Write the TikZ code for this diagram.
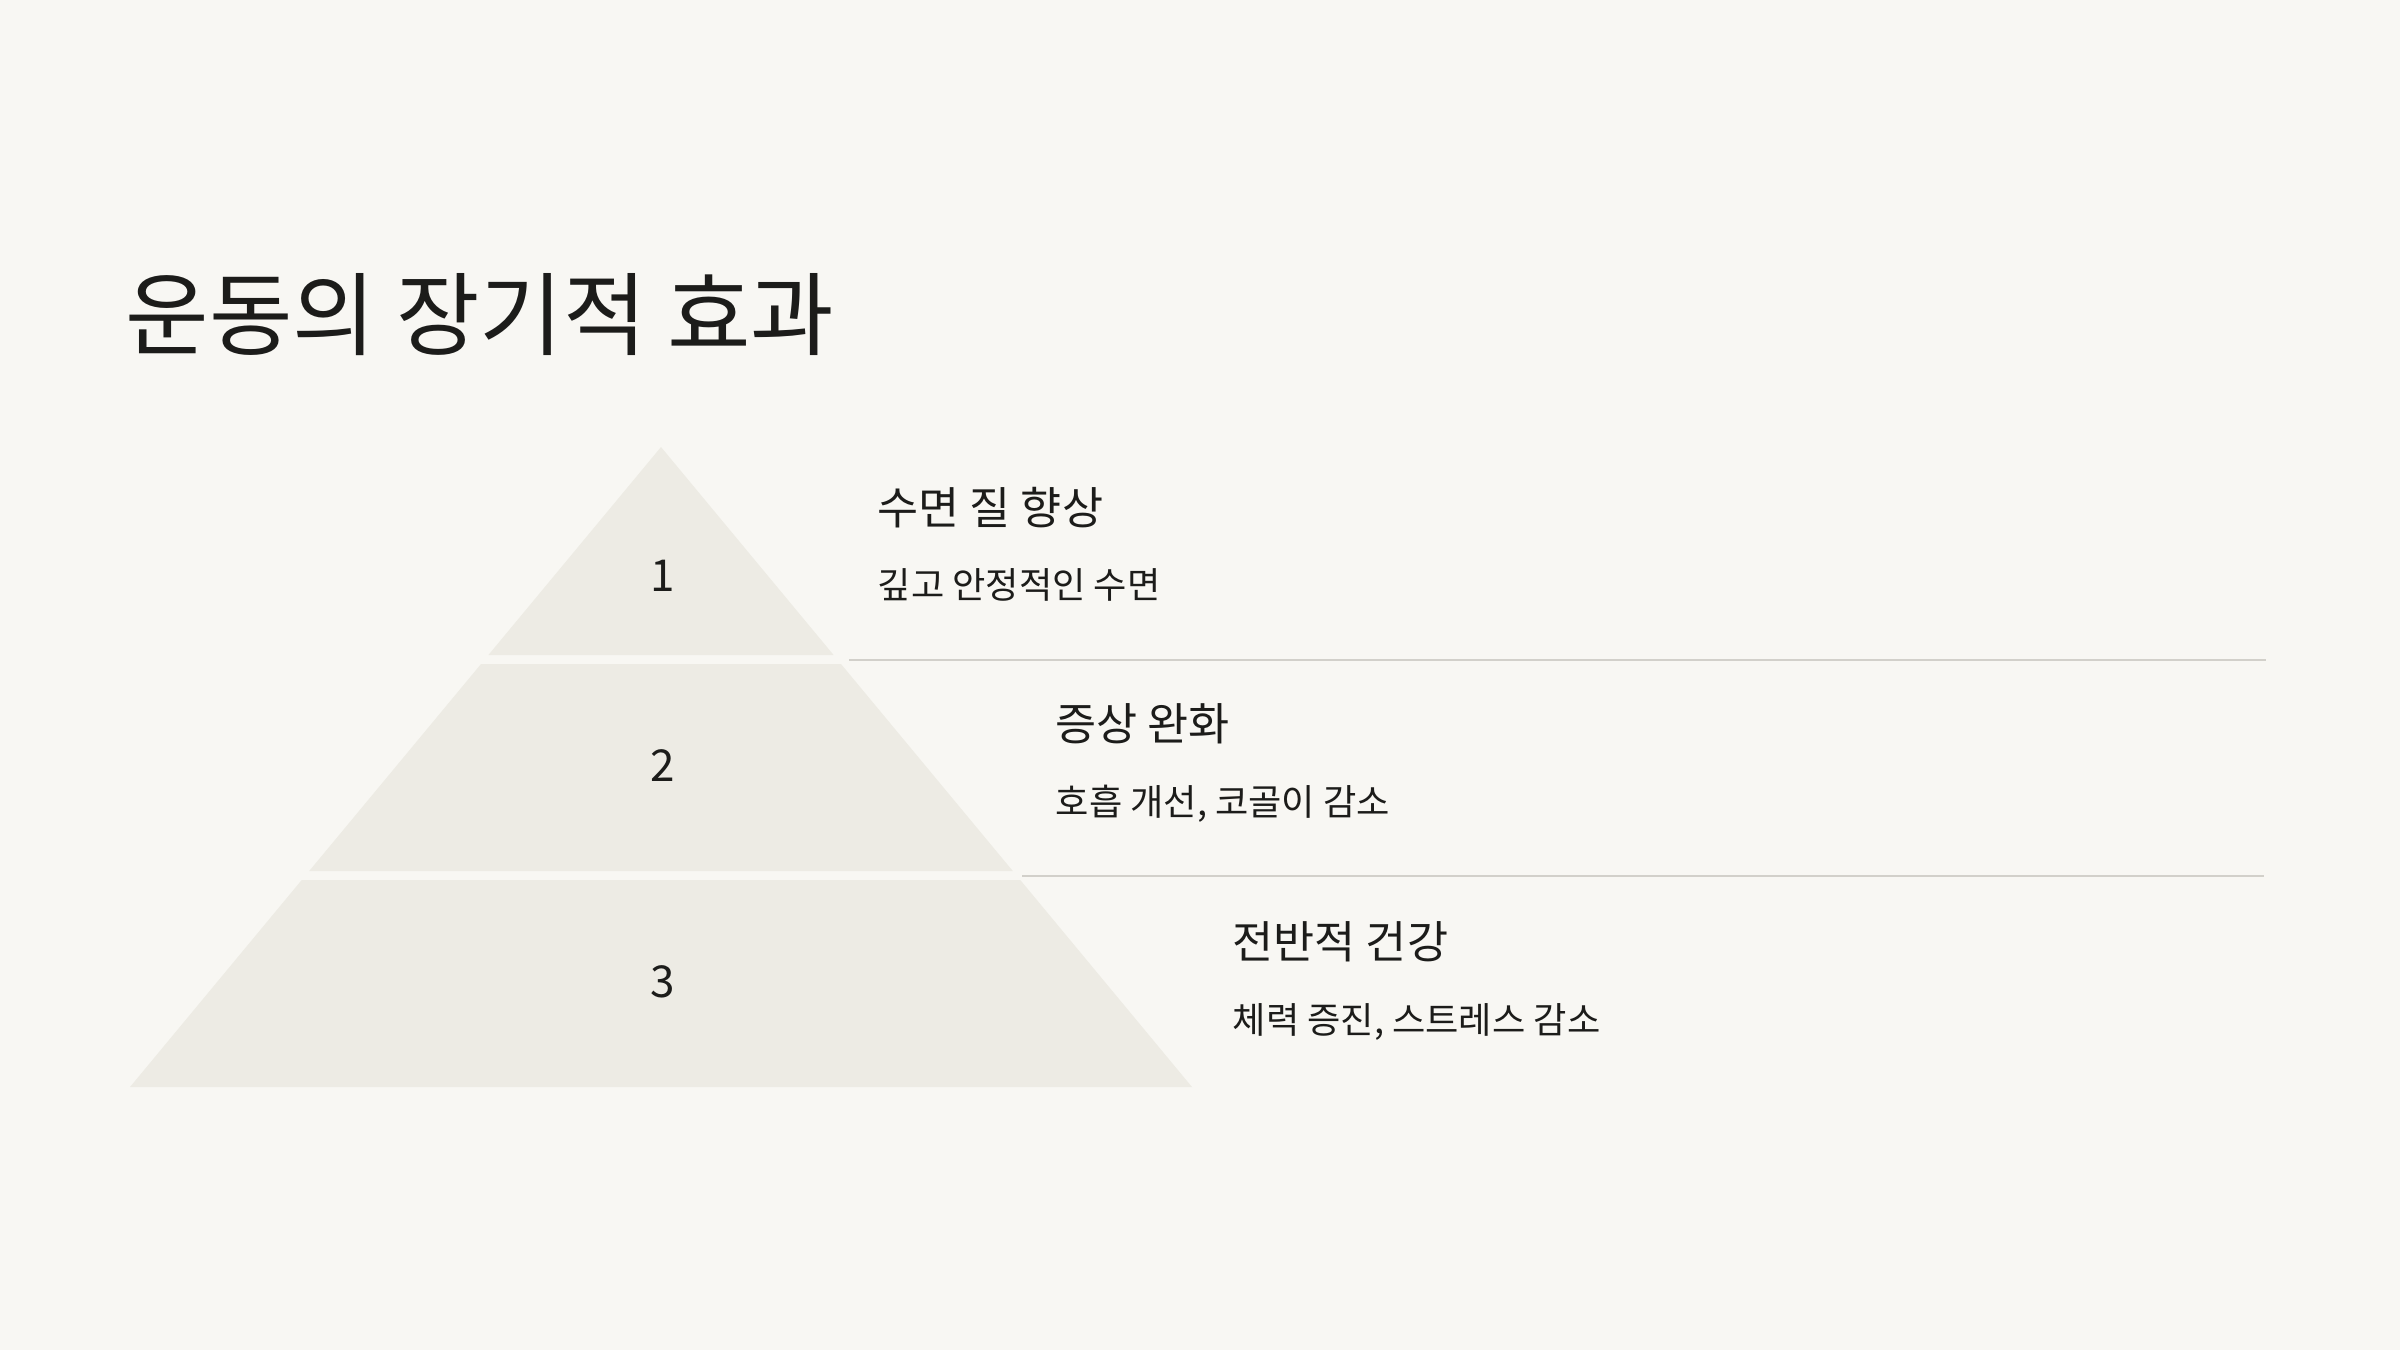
\documentclass[tikz,border=0pt]{standalone}
\usepackage{fontspec}
\setmainfont{Noto Sans CJK KR}
\definecolor{pagebg}{HTML}{F8F7F3}
\definecolor{tierfill}{HTML}{EDEBE4}
\definecolor{rulegray}{HTML}{D2D0CA}
\definecolor{inkdark}{HTML}{1C1C1A}
\tikzset{
  titletext/.style={anchor=west, inner sep=0pt, text=inkdark, font=\fontsize{25.8}{30}\selectfont},
  headtext/.style={anchor=west, inner sep=0pt, text=inkdark, font=\fontsize{12.7}{15}\selectfont},
  subtext/.style={anchor=west, inner sep=0pt, text=inkdark, font=\fontsize{10.3}{12}\selectfont},
  tiernum/.style={inner sep=0pt, text=inkdark, font=\fontsize{12.5}{15}\selectfont},
  tier/.style={fill=tierfill},
  sepline/.style={draw=rulegray, line width=0.57pt},
}
\begin{document}
\begin{tikzpicture}[x=0.01cm, y=-0.01cm]
      \fill[pagebg] (0,0) rectangle (2400,1350);
      \node[titletext] (title) at (125,315) {운동의 장기적 효과};
      \fill[tier] (661,447) -- (833.6,655) -- (488.4,655) -- cycle;
      \fill[tier] (481,664) -- (841,664) -- (1012.8,871) -- (309.2,871) -- cycle;
      \fill[tier] (301.7,880) -- (1020.3,880) -- (1192,1087) -- (130,1087) -- cycle;
      \draw
        (663,576) node[tiernum] (n1){1}
        (663,766) node[tiernum] (n2){2}
        (663,982) node[tiernum] (n3){3};
      \node[headtext] (h1) at (877,508) {수면 질 향상};
      \node[subtext] (s1) at (877,585) {깊고 안정적인 수면};
      \node[headtext] (h2) at (1055,724) {증상 완화};
      \node[subtext] (s2) at (1055,804) {호흡 개선, 코골이 감소};
      \node[headtext] (h3) at (1232,942) {전반적 건강};
      \node[subtext] (s3) at (1232,1022) {체력 증진, 스트레스 감소};
      \coordinate (l1a) at (849,660);
      \coordinate (l1b) at (2266,660);
      \coordinate (l2a) at (1022,876);
      \coordinate (l2b) at (2264,876);
      \begin{scope}[sepline]
        \draw (l1a) to (l1b);
        \draw (l2a) to (l2b);
      \end{scope}
    \end{tikzpicture}
\end{document}
